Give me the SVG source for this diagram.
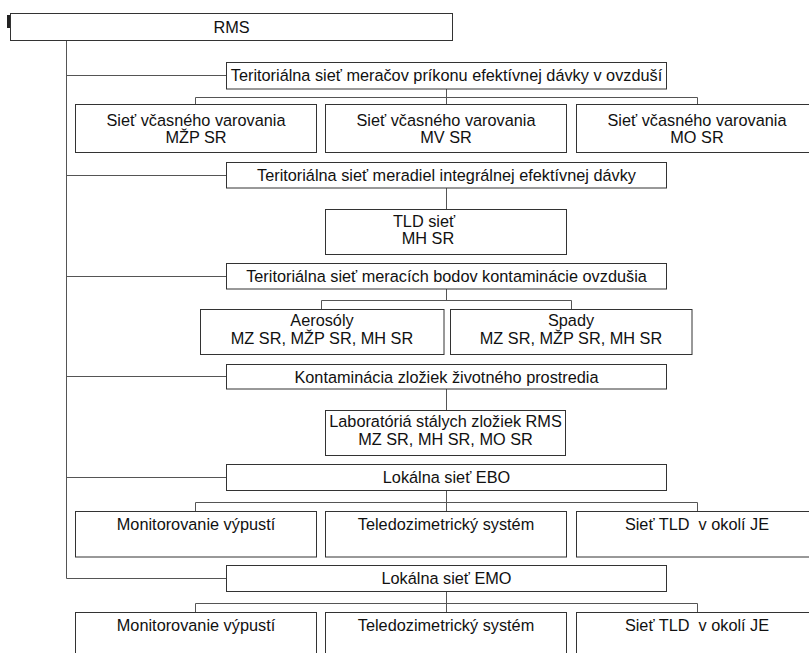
<svg xmlns="http://www.w3.org/2000/svg" width="809" height="653" viewBox="0 0 809 653">
<style>
.b{fill:#fff;stroke:#333;stroke-width:1}
.c{fill:none;stroke:#555;stroke-width:1}
text{font-family:"Liberation Sans",Arial,sans-serif;font-size:16.3px;fill:#111;text-anchor:middle}
</style>
<rect width="809" height="653" fill="#fff"/>
<g id="connectors">
<path class="c" d="M66.5,40.5V578.5M66.5,75.5H226M66.5,175.5H226M66.5,276.5H226M66.5,376.5H226M66.5,477.5H226M66.5,578.5H226"/>
<path class="c" d="M446.5,89V104M195.5,97.5H697.5M195.5,97.5V104M697.5,97.5V104"/>
<path class="c" d="M446.5,188V209"/>
<path class="c" d="M446.5,289V300.5M321.5,300.5H571.5M321.5,300.5V309M571.5,300.5V309"/>
<path class="c" d="M446.5,389V410"/>
<path class="c" d="M446.5,490.5V511M195.5,502.5H697.5M195.5,502.5V511M697.5,502.5V511"/>
<path class="c" d="M446.5,591.5V612M195.5,603.5H697.5M195.5,603.5V612M697.5,603.5V612"/>
</g>
<rect x="7" y="15" width="3" height="13" fill="#222"/>
<g id="rms"><rect class="b" x="10.5" y="13.5" width="442" height="27"/><text x="231.5" y="33">RMS</text></g>
<g id="n1"><rect class="b" x="226.5" y="62.5" width="440" height="26.5"/><text x="446.5" y="81">Teritoriálna sieť meračov príkonu efektívnej dávky v ovzduší</text></g>
<g id="n1a"><rect class="b" x="75.5" y="104.5" width="241" height="48"/><text x="196" y="125.5">Sieť včasného varovania</text><text x="196" y="142.5">MŽP SR</text></g>
<g id="n1b"><rect class="b" x="325.5" y="104.5" width="241" height="48"/><text x="446" y="125.5">Sieť včasného varovania</text><text x="446" y="142.5">MV SR</text></g>
<g id="n1c"><rect class="b" x="576.5" y="104.5" width="242" height="48"/><text x="697" y="125.5">Sieť včasného varovania</text><text x="697" y="142.5">MO SR</text></g>
<g id="n2"><rect class="b" x="226.5" y="162.5" width="440" height="25.5"/><text x="446.5" y="181">Teritoriálna sieť meradiel integrálnej efektívnej dávky</text></g>
<g id="n2a"><rect class="b" x="325.5" y="209.5" width="241" height="45"/><text x="424" y="226.5">TLD sieť</text><text x="428" y="244">MH SR</text></g>
<g id="n3"><rect class="b" x="226.5" y="263.5" width="440" height="25.5"/><text x="446.5" y="282">Teritoriálna sieť meracích bodov kontaminácie ovzdušia</text></g>
<g id="n3a"><rect class="b" x="200.5" y="309.5" width="243.5" height="45"/><text x="322" y="326">Aerosóly</text><text x="322" y="343.5">MZ SR, MŽP SR, MH SR</text></g>
<g id="n3b"><rect class="b" x="450.5" y="309.5" width="241.5" height="45"/><text x="571" y="326">Spady</text><text x="571" y="343.5">MZ SR, MŽP SR, MH SR</text></g>
<g id="n4"><rect class="b" x="226.5" y="364.5" width="440" height="24.5"/><text x="446.5" y="382.5">Kontaminácia zložiek životného prostredia</text></g>
<g id="n4a"><rect class="b" x="325.5" y="410.5" width="240" height="45"/><text x="445.5" y="427">Laboratóriá stálych zložiek RMS</text><text x="445.5" y="444.5">MZ SR, MH SR, MO SR</text></g>
<g id="n5"><rect class="b" x="226.5" y="464.5" width="440" height="26"/><text x="446.5" y="483">Lokálna sieť EBO</text></g>
<g id="n5a"><rect class="b" x="75.5" y="511.5" width="241" height="45.5"/><text x="196" y="530">Monitorovanie výpustí</text></g>
<g id="n5b"><rect class="b" x="325.5" y="511.5" width="241" height="45.5"/><text x="446" y="530">Teledozimetrický systém</text></g>
<g id="n5c"><rect class="b" x="576.5" y="511.5" width="242" height="45.5"/><text x="697" y="530" xml:space="preserve">Sieť TLD  v okolí JE</text></g>
<g id="n6"><rect class="b" x="226.5" y="565.5" width="440" height="26"/><text x="446.5" y="584">Lokálna sieť EMO</text></g>
<g id="n6a"><rect class="b" x="75.5" y="612.5" width="241" height="60"/><text x="196" y="631">Monitorovanie výpustí</text></g>
<g id="n6b"><rect class="b" x="325.5" y="612.5" width="241" height="60"/><text x="446" y="631">Teledozimetrický systém</text></g>
<g id="n6c"><rect class="b" x="576.5" y="612.5" width="242" height="60"/><text x="697" y="631" xml:space="preserve">Sieť TLD  v okolí JE</text></g>
</svg>
